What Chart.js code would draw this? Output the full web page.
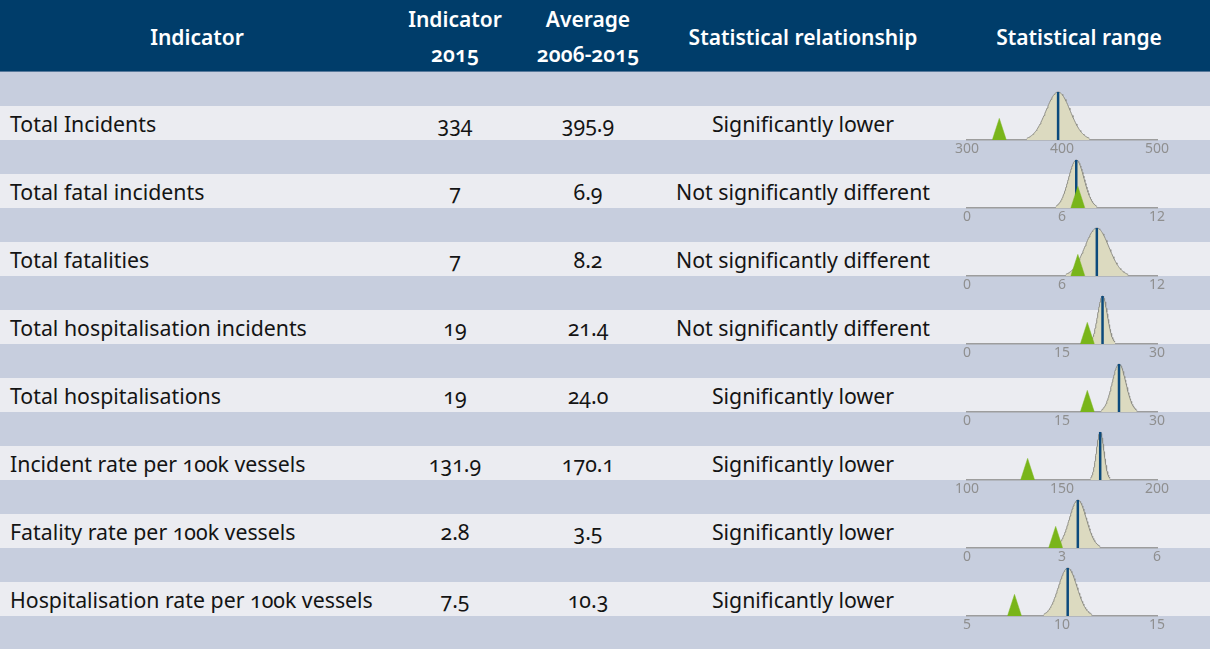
<!DOCTYPE html>
<html>
<head>
<meta charset="utf-8">
<script src="https://cdn.jsdelivr.net/npm/chart.js@4.4.1/dist/chart.umd.min.js"></script>
<style>
  html,body{margin:0;padding:0;background:#c7cede;}
  body{width:1210px;height:649px;position:relative;overflow:hidden;font-family:"Noto Sans",sans-serif;}
  #header{position:absolute;left:0;top:0;width:1210px;height:71px;background:#003d6a;border-bottom:1px solid #56789a;font-variant-numeric:oldstyle-nums;}
  .h{position:absolute;color:#fff;font-weight:600;font-size:21px;text-align:center;line-height:35px;}
  .band{position:absolute;left:0;width:1210px;height:34px;background:#c7cede;}
  .light{position:absolute;left:0;width:1210px;height:34px;background:#ebecf1;font-variant-numeric:oldstyle-nums;}
  .cell{position:absolute;font-size:21.3px;color:#141414;line-height:34px;top:1px;white-space:nowrap;}
  .c{text-align:center;}
  canvas{position:absolute;font-variant-numeric:normal;}
</style>
</head>
<body>
<div id="header"></div>
<div id="rows"></div>
<script>
// ---- data ----
const headers = ["Indicator", "Indicator\n2015", "Average\n2006-2015", "Statistical relationship", "Statistical range"];
const indicators = ["Total Incidents", "Total fatal incidents", "Total fatalities", "Total hospitalisation incidents",
  "Total hospitalisations", "Incident rate per 100k vessels", "Fatality rate per 100k vessels", "Hospitalisation rate per 100k vessels"];
const values2015 = [334, 7, 7, 19, 19, 131.9, 2.8, 7.5];
const decimals2015 = [0, 0, 0, 0, 0, 1, 1, 1];
const averages = [395.9, 6.9, 8.2, 21.4, 24.0, 170.1, 3.5, 10.3];
const relationships = ["Significantly lower", "Not significantly different", "Not significantly different", "Not significantly different",
  "Significantly lower", "Significantly lower", "Significantly lower", "Significantly lower"];
const rangeSD = [12.8, 0.5, 0.76, 0.77, 1.09, 1.98, 0.27, 0.49];
const axisMin = [300, 0, 0, 0, 0, 100, 0, 5];
const axisMax = [500, 12, 12, 30, 30, 200, 6, 15];

// ---- layout ----
const header = document.getElementById('header');
const colCenters = [197, 455, 588, 803, 1079];
headers.forEach((t, i) => {
  const d = document.createElement('div');
  d.className = 'h';
  const lines = t.split('\n');
  d.innerHTML = lines.join('<br>');
  d.style.width = '300px';
  d.style.left = (colCenters[i] - 150) + 'px';
  d.style.top = lines.length === 2 ? '2px' : '20px';
  header.appendChild(d);
});

const rows = document.getElementById('rows');
const ROW0 = 106, STEP = 68;
for (let i = 0; i < indicators.length; i++) {
  const top = ROW0 + STEP * i;
  const light = document.createElement('div');
  light.className = 'light';
  light.style.top = top + 'px';
  rows.appendChild(light);
  const mk = (txt, cx, w, left) => {
    const c = document.createElement('div');
    c.className = 'cell' + (left ? '' : ' c');
    c.textContent = txt;
    if (left) { c.style.left = cx + 'px'; }
    else { c.style.left = (cx - w / 2) + 'px'; c.style.width = w + 'px'; }
    light.appendChild(c);
  };
  mk(indicators[i], 10, 0, true);
  mk(values2015[i].toFixed(decimals2015[i]), colCenters[1], 140, false);
  mk(averages[i].toFixed(1), colCenters[2], 140, false);
  mk(relationships[i], colCenters[3], 320, false);
}

// ---- sparklines ----
const AX_LEFT = 967, AX_RIGHT = 1157, PEAK_PX = 48, AREA_H = 56, AXIS_H = 22, TRI_H = 0.45, TRI_HALF_PX = 7;
for (let i = 0; i < indicators.length; i++) {
  const base = ROW0 + STEP * i + 34;
  const cv = document.createElement('canvas');
  const cLeft = 940, cW = 240, cH = AREA_H + AXIS_H;
  cv.width = cW; cv.height = cH;
  cv.style.left = cLeft + 'px';
  cv.style.top = (base - AREA_H) + 'px';
  cv.style.width = cW + 'px'; cv.style.height = cH + 'px';
  document.body.appendChild(cv);

  const mn = axisMin[i], mx = axisMax[i];
  const unitsPerPx = (mx - mn) / (AX_RIGHT - AX_LEFT);
  const m = averages[i], sd = rangeSD[i];
  const curve = [];
  const N = 80;
  for (let k = 0; k <= N; k++) {
    const z = -2.576 + 5.152 * k / N;
    curve.push({ x: m + z * sd, y: Math.exp(-0.5 * z * z) });
  }
  const hw = TRI_HALF_PX * unitsPerPx;
  const v = values2015[i];
  const tri = [{ x: v - hw, y: 0 }, { x: v, y: TRI_H }, { x: v + hw, y: 0 }];

  new Chart(cv, {
    type: 'line',
    data: {
      datasets: [
        { data: tri, order: 0, fill: 'origin', backgroundColor: '#79b51a', borderColor: '#79b51a', borderWidth: 0.5, pointRadius: 0, tension: 0 },
        { data: [{ x: m, y: 0 }, { x: m, y: 1 }], order: 1, fill: false, borderColor: '#0c4a7c', borderWidth: 2.5, pointRadius: 0 },
        { data: curve, order: 2, fill: 'origin', backgroundColor: '#dcdac0', borderColor: '#8e8e86', borderWidth: 1, pointRadius: 0, tension: 0 }
      ]
    },
    options: {
      responsive: false, animation: false, devicePixelRatio: 1,
      layout: { padding: { left: AX_LEFT - cLeft, right: cLeft + cW - AX_RIGHT, top: 0, bottom: 0 } },
      plugins: { legend: { display: false }, tooltip: { enabled: false } },
      scales: {
        x: {
          type: 'linear', min: mn, max: mx,
          afterBuildTicks: s => { s.ticks = [mn, (mn + mx) / 2, mx].map(t => ({ value: t })); },
          afterFit: s => { s.height = AXIS_H; },
          grid: { display: false, drawTicks: false },
          border: { display: true, color: '#9d9d9d', width: 1.5 },
          ticks: { autoSkip: false, maxRotation: 0, padding: 1, color: '#8f8f8f', font: { family: 'Noto Sans', size: 14 }, callback: val => String(val) }
        },
        y: { type: 'linear', display: false, min: 0, max: AREA_H / PEAK_PX }
      }
    }
  });
}
</script>
</body>
</html>
